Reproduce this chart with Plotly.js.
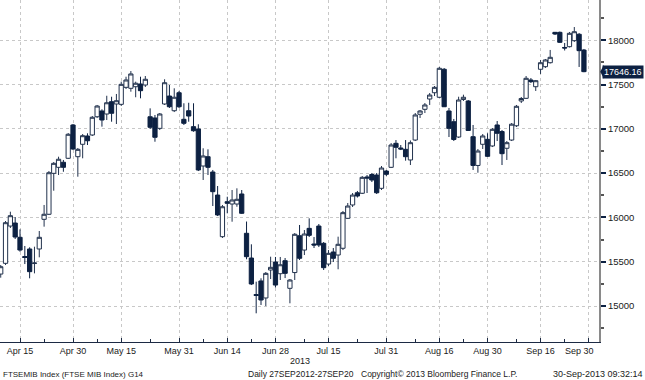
<!DOCTYPE html>
<html>
<head>
<meta charset="utf-8">
<script src="https://cdn.plot.ly/plotly-3.0.1.min.js"></script>
<style>
html,body{margin:0;padding:0;background:#fff;}
#chart{width:645px;height:380px;}
</style>
</head>
<body>
<div id="chart"></div>
<script>
// Trading days (FTSE MIB, Apr 9 - Sep 27 2013)
const dates = [
'2013-04-09','2013-04-10','2013-04-11','2013-04-12','2013-04-15','2013-04-16','2013-04-17','2013-04-18','2013-04-19','2013-04-22',
'2013-04-23','2013-04-24','2013-04-25','2013-04-26','2013-04-29','2013-04-30','2013-05-02','2013-05-03','2013-05-06','2013-05-07',
'2013-05-08','2013-05-09','2013-05-10','2013-05-13','2013-05-14','2013-05-15','2013-05-16','2013-05-17','2013-05-20','2013-05-21',
'2013-05-22','2013-05-23','2013-05-24','2013-05-27','2013-05-28','2013-05-29','2013-05-30','2013-05-31','2013-06-03','2013-06-04',
'2013-06-05','2013-06-06','2013-06-07','2013-06-10','2013-06-11','2013-06-12','2013-06-13','2013-06-14','2013-06-17','2013-06-18',
'2013-06-19','2013-06-20','2013-06-21','2013-06-24','2013-06-25','2013-06-26','2013-06-27','2013-06-28','2013-07-01','2013-07-02',
'2013-07-03','2013-07-04','2013-07-05','2013-07-08','2013-07-09','2013-07-10','2013-07-11','2013-07-12','2013-07-15','2013-07-16',
'2013-07-17','2013-07-18','2013-07-19','2013-07-22','2013-07-23','2013-07-24','2013-07-25','2013-07-26','2013-07-29','2013-07-30',
'2013-07-31','2013-08-01','2013-08-02','2013-08-05','2013-08-06','2013-08-07','2013-08-08','2013-08-09','2013-08-12','2013-08-13',
'2013-08-14','2013-08-16','2013-08-19','2013-08-20','2013-08-21','2013-08-22','2013-08-23','2013-08-26','2013-08-27','2013-08-28',
'2013-08-29','2013-08-30','2013-09-02','2013-09-03','2013-09-04','2013-09-05','2013-09-06','2013-09-09','2013-09-10','2013-09-11',
'2013-09-12','2013-09-13','2013-09-16','2013-09-17','2013-09-18','2013-09-19','2013-09-20','2013-09-23','2013-09-24','2013-09-25',
'2013-09-26','2013-09-27'
];
const open = [
15361,15482,15903,15937,15776,15559,15644,15480,15644,15979,
16036,16498,16566,16623,16668,17044,16686,16826,16920,16931,
17137,17202,17168,17307,17281,17277,17469,17458,17476,17507,
17495,17137,17123,17006,17281,17371,17205,17408,17108,17205,
17025,16999,16581,16686,16513,16253,15783,16178,16152,16152,
16265,15821,15542,15130,15283,15091,15407,15497,15365,15512,
15200,15378,15794,15632,15877,15700,15903,15708,15474,15610,
15576,15652,15990,16141,16279,16273,16457,16485,16479,16329,
16524,16566,16837,16784,16769,16649,16874,17165,17221,17337,
17408,17357,17673,17202,17081,16908,17332,17315,16912,16587,
16826,16882,16807,17044,16970,16781,16874,17035,17315,17345,
17552,17476,17673,17702,17747,18090,18090,17919,17928,17996,
18068,17890
];
const high = [
15463,15960,16065,16005,15866,15678,15663,15670,15847,16141,
16524,16626,16686,16649,16953,17055,16784,16942,16950,17145,
17270,17221,17374,17363,17394,17533,17589,17653,17533,17589,
17597,17232,17157,17179,17560,17495,17458,17428,17289,17295,
17289,17052,16781,16769,16536,16355,16141,16234,16310,16329,
16310,15954,15697,15275,15313,15384,15557,15554,15554,15542,
15305,15824,15915,15858,15990,15779,15926,15723,15632,15655,
15783,16073,16163,16276,16299,16468,16479,16502,16502,16581,
16536,16840,16874,16818,16874,16869,17179,17213,17292,17405,
17484,17699,17687,17236,17112,17363,17386,17326,17044,16773,
16942,16950,17010,17089,16987,16863,17066,17270,17360,17597,
17574,17552,17778,17789,17891,18094,18099,17970,18094,18150,
18082,17902
];
const low = [
15320,15463,15881,15757,15613,15474,15313,15369,15550,15896,
16028,16302,16479,16516,16660,16761,16460,16668,16818,16920,
17123,17025,17100,17081,17055,17258,17450,17420,17357,17345,
17473,16999,16855,16987,17270,17236,17190,17236,17044,17081,
16968,16524,16423,16479,16129,16016,15768,16047,15952,16121,
16039,15528,15237,14918,15012,15000,15305,15209,15294,15316,
15031,15294,15520,15576,15779,15655,15666,15407,15452,15497,
15415,15632,15983,16118,16225,16265,16276,16400,16265,16310,
16468,16558,16668,16761,16641,16592,16863,17123,17179,17270,
17371,17349,17247,16908,16863,16897,17315,16976,16536,16505,
16773,16683,16795,16863,16592,16649,16863,17021,17292,17337,
17518,17428,17620,17687,17738,18060,17970,17885,17919,17981,
17699,17640
];
const close = [
15444,15941,16020,15779,15632,15548,15388,15486,15776,16036,
16505,16611,16657,16566,16939,16773,16769,16923,16866,17131,
17258,17100,17295,17176,17318,17503,17552,17620,17515,17431,
17560,17018,16905,17168,17521,17250,17357,17250,17063,17145,
16979,16536,16694,16566,16291,16028,16121,16160,16197,16205,
16047,15557,15249,15119,15068,15369,15437,15237,15466,15369,
15294,15810,15539,15813,15798,15689,15689,15433,15595,15539,
15697,16054,16129,16253,16242,16453,16445,16423,16279,16558,
16487,16818,16792,16773,16686,16844,17157,17202,17270,17382,
17469,17684,17250,17006,16880,17326,17357,16982,16587,16750,
16920,16690,16995,16950,16720,16844,17053,17255,17343,17571,
17533,17544,17747,17778,17808,18071,17977,17913,18079,18097,
17883,17646.16
];
const holidays = ['2013-05-01','2013-08-15'];
const tickDates = ['2013-04-15','2013-04-30','2013-05-15','2013-05-31','2013-06-14','2013-06-28','2013-07-15','2013-07-31','2013-08-16','2013-08-30','2013-09-16','2013-09-30'];
const tickText = ['Apr 15','Apr 30','May 15','May 31','Jun 14','Jun 28','Jul 15','Jul 31','Aug 16','Aug 30','Sep 16','Sep 30'];
const minorTickDates = ['2013-04-22','2013-05-08','2013-05-23','2013-06-07','2013-06-21','2013-07-08','2013-07-23','2013-08-08','2013-08-23','2013-09-09','2013-09-23'];
const yTicks = [15000,15500,16000,16500,17000,17500,18000];
const yearLabel = '2013';
const footerLeft = 'FTSEMIB Index (FTSE MIB Index) G14';
const footerMid = 'Daily 27SEP2012-27SEP20';
const footerCopy = 'Copyright\u00A9 2013 Bloomberg Finance L.P.';
const footerTime = '30-Sep-2013 09:32:14';

const noon = d => d + ' 12:00';
const FONT = 'Liberation Sans, Arial, sans-serif';
const NAVY = '#0d2142';
const TXT = '#1a1a1a';
const lastClose = close[close.length - 1];
const plotW = 599; // plot width in px
const plotH = 342; // plot height in px
const pxY = 11.29; // price units per pixel

const trace = {
  type: 'candlestick',
  x: dates.map(noon),
  open: open, high: high, low: low, close: close,
  increasing: {line: {color: '#22324d', width: 1}, fillcolor: '#ffffff'},
  decreasing: {line: {color: NAVY, width: 1}, fillcolor: NAVY},
  whiskerwidth: 0,
  hoverinfo: 'skip',
  showlegend: false
};

// last tick label is drawn as annotation (it sits left of its gridline, away from the axis)
const axisText = tickText.map((t, i) => i === tickText.length - 1 ? '' : t);

const layout = {
  width: 645, height: 380,
  margin: {l: 0, r: 46, t: 0, b: 38, pad: 0},
  paper_bgcolor: '#ffffff', plot_bgcolor: '#ffffff',
  boxgap: 0.12, boxgroupgap: 0,
  showlegend: false,
  xaxis: {
    type: 'date',
    range: ['2013-04-09 08:24', '2013-10-02 15:00'],
    rangebreaks: [{bounds: ['sat', 'mon']}, {values: holidays}],
    rangeslider: {visible: false},
    tickmode: 'array', tickvals: tickDates.map(noon), ticktext: axisText,
    ticks: 'inside', ticklen: 4, tickwidth: 1, tickcolor: '#1c2a44',
    minor: {tickmode: 'array', tickvals: minorTickDates.map(noon), ticks: 'inside', ticklen: 3, tickcolor: '#1c2a44', showgrid: false},
    showgrid: true, gridcolor: '#c8c8c8', griddash: 'dot', gridwidth: 1,
    showline: true, linecolor: '#1c2a44', linewidth: 1,
    zeroline: false,
    tickfont: {family: FONT, size: 9, color: TXT}
  },
  yaxis: {
    side: 'right',
    range: [14594, 18455],
    tickmode: 'array', tickvals: yTicks, ticktext: yTicks.map(String),
    ticks: 'outside', ticklen: 5, tickwidth: 2, tickcolor: NAVY,
    minor: {dtick: 250, ticks: 'outside', ticklen: 3, tickcolor: '#555555', showgrid: false},
    showgrid: true, gridcolor: '#c8c8c8', griddash: 'dot', gridwidth: 1,
    showline: true, linecolor: '#8a8a8a', linewidth: 2,
    zeroline: false,
    tickfont: {family: FONT, size: 9.5, color: TXT}
  },
  shapes: [{
    type: 'path', xref: 'paper', yref: 'y',
    path: 'M 1.002,' + lastClose + ' L ' + (1 + 5 / plotW) + ',' + (lastClose + 7 * pxY) + ' L ' + (1 + 5 / plotW) + ',' + (lastClose - 7 * pxY) + ' Z',
    fillcolor: NAVY, line: {width: 0}
  }],
  annotations: [
    {xref: 'paper', yref: 'y', x: 1, y: lastClose, xanchor: 'left', yanchor: 'middle', xshift: 3,
     text: lastClose.toFixed(2), showarrow: false, bgcolor: NAVY, borderpad: 1,
     font: {family: FONT, size: 9, color: '#ffffff'}},
    {xref: 'paper', yref: 'paper', x: 579 / plotW, y: -9 / plotH, xanchor: 'center', yanchor: 'middle',
     text: tickText[tickText.length - 1], showarrow: false, font: {family: FONT, size: 9, color: TXT}},
    {xref: 'paper', yref: 'paper', x: 300 / plotW, y: -19 / plotH, xanchor: 'center', yanchor: 'middle',
     text: yearLabel, showarrow: false, font: {family: FONT, size: 9, color: TXT}},
    {xref: 'paper', yref: 'paper', x: 1 / plotW, y: -32 / plotH, xanchor: 'left', yanchor: 'middle',
     text: footerLeft, showarrow: false, font: {family: FONT, size: 8, color: TXT}},
    {xref: 'paper', yref: 'paper', x: 246 / plotW, y: -32 / plotH, xanchor: 'left', yanchor: 'middle',
     text: footerMid, showarrow: false, font: {family: FONT, size: 8.5, color: TXT}},
    {xref: 'paper', yref: 'paper', x: 359 / plotW, y: -32 / plotH, xanchor: 'left', yanchor: 'middle',
     text: footerCopy, showarrow: false, font: {family: FONT, size: 8.5, color: TXT}},
    {xref: 'paper', yref: 'paper', x: 645 / plotW, y: -32 / plotH, xanchor: 'right', yanchor: 'middle',
     text: footerTime, showarrow: false, font: {family: FONT, size: 9, color: TXT}}
  ]
};

Plotly.newPlot('chart', [trace], layout, {staticPlot: true, displayModeBar: false});
</script>
</body>
</html>
